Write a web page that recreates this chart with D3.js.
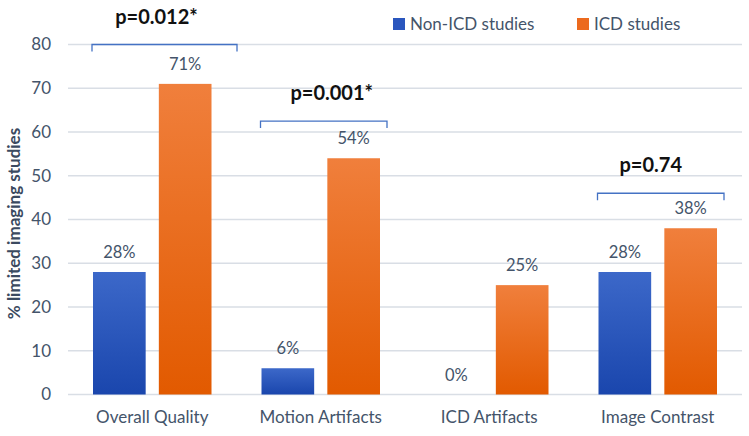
<!DOCTYPE html>
<html><head><meta charset="utf-8">
<script src="https://cdn.jsdelivr.net/npm/d3@7"></script>
<style>
body{margin:0;background:#fff;}
text{font-family:Lato,"Open Sans",sans-serif;}
</style></head>
<body>
<svg id="chart" width="749" height="436"></svg>
<script>
const categories = ["Overall Quality", "Motion Artifacts", "ICD Artifacts", "Image Contrast"];
const seriesNames = ["Non-ICD studies", "ICD studies"];
const nonIcdValues = [28, 6, 0, 28];
const icdValues = [71, 54, 25, 38];
const yTicks = [0, 10, 20, 30, 40, 50, 60, 70, 80];
const pCategories = ["Overall Quality", "Motion Artifacts", "Image Contrast"];
const pLabels = ["p=0.012*", "p=0.001*", "p=0.74"];
const pLevels = [80, 62.5, 46];

const svg = d3.select("#chart");
const W = 749, H = 436;
const FONT = "Lato";
const m = {left: 68, right: 7, top: 44.5, bottom: 41.5};
const y = d3.scaleLinear().domain([0, 80]).range([H - m.bottom, m.top]);
const x0 = d3.scaleBand().domain(categories).range([m.left, W - m.right]).padding(0);
const x1 = d3.scaleBand().domain(seriesNames).range([25, x0.bandwidth() - 25]).paddingInner(0.2);

const defs = svg.append("defs");
const grads = [["gBlue", "#3c68c9", "#1a46ad"], ["gOrange", "#f07f3c", "#e25a00"]];
grads.forEach(([id, c1, c2]) => {
  const g = defs.append("linearGradient").attr("id", id).attr("x1", 0).attr("y1", 0).attr("x2", 0).attr("y2", 1);
  g.append("stop").attr("offset", "0%").attr("stop-color", c1);
  g.append("stop").attr("offset", "100%").attr("stop-color", c2);
});
const fills = {"Non-ICD studies": "url(#gBlue)", "ICD studies": "url(#gOrange)"};
const legendColors = {"Non-ICD studies": "#2a56be", "ICD studies": "#ec6a1e"};

// gridlines
svg.append("g").selectAll("line").data(yTicks).join("line")
  .attr("x1", m.left).attr("x2", W - m.right)
  .attr("y1", d => y(d)).attr("y2", d => y(d))
  .attr("stroke", "#d9dee5").attr("stroke-width", 1.5);

// y axis labels
const yAxis = d3.axisLeft(y).tickValues(yTicks).tickSize(0).tickPadding(0);
const ya = svg.append("g").attr("transform", `translate(${m.left - 17},0)`).call(yAxis);
ya.select(".domain").remove();
ya.selectAll("text").attr("font-size", 17).attr("fill", "#44546a").attr("font-family", FONT);

// y title
svg.append("text").attr("transform", `translate(20,${y(40) + 4}) rotate(-90)`)
  .attr("text-anchor", "middle").attr("font-size", 17).attr("font-weight", "bold")
  .attr("fill", "#3b4a60").text("% limited imaging studies");

// bars
const rows = categories.map((c, i) => ({cat: c, vals: [
  {s: seriesNames[0], v: nonIcdValues[i]}, {s: seriesNames[1], v: icdValues[i]}]}));
const grp = svg.append("g").selectAll("g").data(rows).join("g")
  .attr("transform", d => `translate(${x0(d.cat)},0)`);
grp.selectAll("rect").data(d => d.vals).join("rect")
  .attr("x", d => x1(d.s)).attr("width", x1.bandwidth())
  .attr("y", d => y(d.v)).attr("height", d => y(0) - y(d.v))
  .attr("fill", d => fills[d.s]);
grp.selectAll("text").data(d => d.vals).join("text")
  .attr("x", d => x1(d.s) + x1.bandwidth() / 2).attr("y", d => y(d.v) - 14)
  .attr("text-anchor", "middle").attr("font-size", 16.5).attr("fill", "#44546a")
  .text(d => d.v + "%");

// x labels
const xAxis = d3.axisBottom(x0).tickSize(0).tickPadding(0);
const xa = svg.append("g").attr("transform", `translate(0,${y(0) + 16})`).call(xAxis);
xa.select(".domain").remove();
xa.selectAll("text").attr("font-size", 17).attr("fill", "#44546a").attr("font-family", FONT).attr("dy", "0.75em");

// brackets
const pShift = [-8, 8, -10];
pCategories.forEach((c, i) => {
  const left = x0(c) + x1(seriesNames[0]) - 1;
  const right = c === "Overall Quality" ? left + 145 : x0(c) + x1(seriesNames[1]) + x1.bandwidth() + 7;
  const yy = y(pLevels[i]);
  svg.append("path")
    .attr("d", `M${left},${yy + 7}V${yy}H${right}V${yy + 7}`)
    .attr("fill", "none").attr("stroke", "#4472c4").attr("stroke-width", 1.3);
  svg.append("text").attr("x", (left + right) / 2 + pShift[i]).attr("y", yy - 21)
    .attr("text-anchor", "middle").attr("font-size", 20).attr("font-weight", "bold")
    .attr("fill", "#111").text(pLabels[i]);
});

// legend
const lg = svg.append("g");
const legendX = [393, 577];
seriesNames.forEach((s, i) => {
  lg.append("rect").attr("x", legendX[i]).attr("y", 18).attr("width", 12).attr("height", 12).attr("fill", legendColors[s]);
  lg.append("text").attr("x", legendX[i] + 17).attr("y", 29.5).attr("font-size", 17)
    .attr("fill", "#44546a").text(s);
});
</script>
</body></html>
